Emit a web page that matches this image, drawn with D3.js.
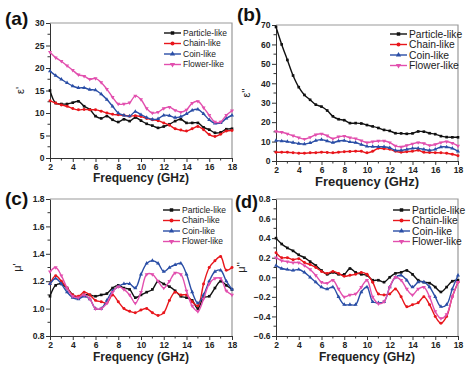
<!DOCTYPE html>
<html>
<head>
<meta charset="utf-8">
<script src="https://cdn.jsdelivr.net/npm/d3@7"></script>
<style>
  body { margin: 0; background: #fff; }
  svg text { font-family: "Liberation Sans", Arial, sans-serif; }
  .axis .tick text { font-weight: bold; font-size: 8.5px; fill: #222; }
  .axis path, .axis line { stroke: #333; }
  .legend text { fill: #222; }
  .title { font-weight: bold; fill: #222; }
  .panel { font-weight: bold; fill: #111; }
</style>
</head>
<body>
<div class="chart"></div>
<script>
// frequency points (GHz)
var freq = [2, 2.5, 3, 3.5, 4, 4.5, 5, 5.5, 6, 6.5, 7, 7.5, 8, 8.5, 9, 9.5, 10,
  10.5, 11, 11.5, 12, 12.5, 13, 13.5, 14, 14.5, 15, 15.5, 16, 16.5, 17, 17.5, 18];
var seriesNames = ["Particle-like", "Chain-like", "Coin-like", "Flower-like"];
var xTicks = [2, 4, 6, 8, 10, 12, 14, 16, 18];

// (a) real permittivity
var epsReal = [
  [15, 12.2, 12, 12, 12.3, 12.6, 11.5, 10.8, 9.3, 8.8, 9.3, 8.5, 8, 8.6, 8.2, 9, 8.3,
   7.6, 7.2, 6.7, 7, 7.5, 8.2, 8.6, 7.8, 7.8, 7.8, 6.8, 6.3, 5.6, 5.7, 6.4, 6.5],
  [12.7, 12.2, 11.8, 11.5, 11, 10.7, 10.8, 10.7, 10.7, 10.4, 10, 9.7, 9.6, 9.5, 9.3, 9.4, 9.2,
   8.8, 8.5, 8.3, 7.8, 7.3, 6.5, 6.2, 6, 6.5, 7, 6.3, 5.2, 4.8, 5.3, 6, 6.1],
  [19.3, 18.3, 17.5, 16.7, 16, 15.6, 15.6, 15.2, 15.1, 14.2, 13, 11.5, 10, 9.5, 9.3, 10.3, 9.6,
   9, 8.6, 8.7, 9.5, 9.4, 9, 9.2, 9.8, 10.6, 10.8, 9.8, 8.5, 7.7, 7.8, 8.8, 9.5],
  [23.5, 22.3, 21.5, 20.5, 19.5, 18.5, 18.2, 17.5, 17.7, 16.8, 15.3, 13.5, 12, 12, 12.3, 13.8, 13,
   11, 10, 10.2, 11, 11.3, 10.6, 10.2, 10.7, 12.2, 12.6, 11.2, 9.5, 8, 8, 9.5, 10.5]
];
// (b) imaginary permittivity
var epsImag = [
  [69, 60, 52, 44, 38, 34, 31.5, 29, 28, 26, 23, 21.5, 21, 19.5, 19.5, 19.3, 18.5,
   17.8, 17, 16, 15.5, 14.3, 14.2, 14, 14.2, 15.2, 15.1, 14.3, 13.8, 12.8, 12.3, 12.2, 12.2],
  [4.5, 4.5, 4.5, 4.3, 4, 4, 4.2, 4.3, 4.5, 4.4, 4.2, 4.5, 4.8, 4.9, 5, 5, 4.2,
   5, 6.5, 6.3, 6, 5, 4.5, 4.8, 5, 5.5, 4.5, 4.4, 4.3, 4.2, 4, 3.5, 2.7],
  [10.5, 10.3, 10, 9.5, 9, 8.7, 9.3, 10.5, 11, 10.3, 9.5, 10.3, 10.5, 9.8, 9.5, 8.5, 7.5,
   7.4, 7.3, 7.3, 6.8, 5.5, 5.5, 6, 6.5, 6.5, 6, 5.5, 6, 7.2, 7.2, 6.5, 5],
  [15.2, 14.8, 14, 13, 12, 11.3, 12.2, 13.5, 14, 13, 11.5, 12.5, 12.8, 12, 11.5, 10.5, 9.5,
   10, 10.3, 10.3, 9.5, 7.8, 7.3, 8, 8.8, 9.5, 9, 8, 8.5, 9.5, 10, 9.2, 7.8]
];
// (c) real permeability
var muReal = [
  [1.09, 1.17, 1.18, 1.15, 1.1, 1.08, 1.1, 1.1, 1.09, 1.1, 1.11, 1.15, 1.17, 1.15, 1.14, 1.08, 1.1,
   1.12, 1.14, 1.2, 1.18, 1.16, 1.13, 1.09, 1.08, 1.06, 1.0, 1.08, 1.09, 1.15, 1.2, 1.17, 1.14],
  [1.18, 1.24, 1.2, 1.15, 1.1, 1.09, 1.12, 1.1, 1.06, 1.05, 1.04, 1.1, 1.05, 1.0, 0.98, 0.97, 0.99,
   1.0, 0.97, 0.95, 0.97, 1.06, 1.12, 1.1, 1.1, 1.05, 1.02, 1.18, 1.3, 1.35, 1.38, 1.28, 1.3],
  [1.18, 1.22, 1.18, 1.12, 1.08, 1.07, 1.09, 1.07, 1.0, 1.0, 1.06, 1.13, 1.16, 1.18, 1.18, 1.15, 1.25,
   1.33, 1.35, 1.33, 1.27, 1.3, 1.32, 1.33, 1.25, 1.12, 1.04, 1.1, 1.2, 1.27, 1.28, 1.2, 1.14],
  [1.27, 1.3, 1.24, 1.15, 1.09, 1.08, 1.1, 1.07, 1.0, 1.0, 1.04, 1.12, 1.16, 1.14, 1.1, 1.04, 1.12,
   1.25, 1.25, 1.2, 1.15, 1.2, 1.26, 1.25, 1.13, 1.02, 0.98, 1.07, 1.18, 1.22, 1.22, 1.13, 1.1]
];
// (d) imaginary permeability
var muImag = [
  [0.4, 0.34, 0.3, 0.27, 0.23, 0.2, 0.16, 0.12, 0.07, 0.03, 0.05, 0.03, 0.03, 0.09, 0.05, 0.03, 0.02,
   -0.03, -0.03, -0.05, 0, 0.04, 0.05, 0.07, 0.03, -0.03, -0.05, -0.06, -0.1, -0.15, -0.1, -0.04, -0.03],
  [0.25, 0.2, 0.2, 0.18, 0.19, 0.15, 0.13, 0.1, 0.06, 0.04, 0.06, 0.04, 0.01, 0.02, 0.03, 0.05, 0.03,
   -0.05, -0.17, -0.18, -0.17, -0.12, -0.2, -0.3, -0.28, -0.26, -0.2, -0.28, -0.4, -0.47, -0.4, -0.2, -0.05],
  [0.12, 0.09, 0.08, 0.07, 0.08, 0.05, 0, -0.05, -0.1, -0.12, -0.1, -0.2, -0.28, -0.28, -0.28, -0.15, -0.1,
   -0.25, -0.26, -0.25, -0.1, 0, 0.02, -0.03, -0.1, -0.05, -0.05, -0.1, -0.2, -0.3, -0.28, -0.12, 0.02],
  [0.2, 0.17, 0.16, 0.15, 0.15, 0.12, 0.08, 0.02, -0.05, -0.06, -0.03, -0.12, -0.2, -0.18, -0.17, -0.1, -0.03,
   -0.2, -0.27, -0.25, -0.1, 0, -0.03, -0.12, -0.18, -0.12, -0.1, -0.2, -0.35, -0.42, -0.38, -0.2, -0.05]
];

var colors = ["#111111", "#e8161c", "#2a4ea6", "#e24fae"];
var symbols = [d3.symbolSquare, d3.symbolCircle, d3.symbolTriangle, d3.symbolTriangle];

var svg = d3.select(".chart")
  .append("svg")
  .attr("width", 476)
  .attr("height", 375);

function drawPanel(p) {
  var x = d3.scaleLinear().domain([2, 18]).range([p.left, p.right]);
  var y = d3.scaleLinear().domain(p.yDomain).range([p.bottom, p.top]);
  var g = svg.append("g");

  // minor ticks
  var xMinor = d3.range(3, 18, 2);
  var yMinor = p.yTicks.slice(1).map(function(v, i) { return (v + p.yTicks[i]) / 2; });
  g.selectAll(".xm").data(xMinor).enter().append("line")
    .attr("x1", function(d) { return x(d); }).attr("x2", function(d) { return x(d); })
    .attr("y1", p.bottom).attr("y2", p.bottom + 2.5).attr("stroke", "#333");
  g.selectAll(".ym").data(yMinor).enter().append("line")
    .attr("y1", function(d) { return y(d); }).attr("y2", function(d) { return y(d); })
    .attr("x1", p.left).attr("x2", p.left - 2.5).attr("stroke", "#333");

  // frame top/right
  g.append("path")
    .attr("d", "M" + p.left + "," + p.top + "H" + p.right + "V" + p.bottom)
    .attr("fill", "none").attr("stroke", "#999").attr("stroke-width", 1.2);

  // axes
  g.append("g").attr("class", "axis")
    .attr("transform", "translate(0," + p.bottom + ")")
    .call(d3.axisBottom(x).tickValues(xTicks).tickSize(4).tickSizeOuter(0).tickPadding(2));
  g.append("g").attr("class", "axis")
    .attr("transform", "translate(" + p.left + ",0)")
    .call(d3.axisLeft(y).tickValues(p.yTicks).tickFormat(d3.format(p.fmt)).tickSize(4).tickSizeOuter(0).tickPadding(1.5));

  // series
  var line = d3.line()
    .x(function(d, i) { return x(freq[i]); })
    .y(function(d) { return y(d); })
    .curve(d3.curveCatmullRom);
  p.data.forEach(function(s, k) {
    g.append("path")
      .attr("d", line(s))
      .attr("fill", "none")
      .attr("stroke", colors[k])
      .attr("stroke-width", 1.4);
    g.selectAll(".m" + k).data(s).enter().append("path")
      .attr("d", d3.symbol().type(symbols[k]).size(7))
      .attr("transform", function(d, i) {
        return "translate(" + x(freq[i]) + "," + y(d) + ")" + (k === 3 ? " rotate(180)" : "");
      })
      .attr("fill", colors[k]);
  });

  // legend
  var lg = g.append("g").attr("class", "legend");
  seriesNames.forEach(function(name, k) {
    var ly = p.legY + k * 10.5;
    lg.append("line")
      .attr("x1", p.legX).attr("x2", p.legX + 17)
      .attr("y1", ly).attr("y2", ly)
      .attr("stroke", colors[k]).attr("stroke-width", 1.4);
    lg.append("path")
      .attr("d", d3.symbol().type(symbols[k]).size(12))
      .attr("transform", "translate(" + (p.legX + 8.5) + "," + ly + ")" + (k === 3 ? " rotate(180)" : ""))
      .attr("fill", colors[k]);
    lg.append("text")
      .attr("x", p.legX + 19).attr("y", ly)
      .attr("dy", "0.35em")
      .attr("font-size", p.legFont + "px")
      .text(name);
  });

  // titles
  g.append("text").attr("class", "title")
    .attr("x", (p.left + p.right) / 2).attr("y", p.bottom + p.titleGap)
    .attr("text-anchor", "middle")
    .attr("font-size", p.titleFont + "px")
    .text("Frequency (GHz)");
  g.append("text")
    .attr("transform", "translate(" + p.yLabX + "," + ((p.top + p.bottom) / 2) + ") rotate(-90)")
    .attr("text-anchor", "middle")
    .attr("font-size", "11px")
    .attr("fill", "#222")
    .text(p.yLabel);
  g.append("text").attr("class", "panel")
    .attr("x", p.tagX).attr("y", p.tagY)
    .attr("font-size", p.tagFont + "px")
    .text(p.tag);
}

drawPanel({tag: "(a)", tagX: 5, tagY: 25, tagFont: 19, left: 50, right: 232, top: 23, bottom: 158, titleGap: 24, titleFont: 12,
  yDomain: [0, 30], yTicks: [0, 5, 10, 15, 20, 25, 30], fmt: "d", yLabel: "\u03b5'", yLabX: 24,
  legX: 164, legY: 33, legFont: 8.5, data: epsReal});
drawPanel({tag: "(b)", tagX: 237, tagY: 21, tagFont: 19, left: 276, right: 458, top: 25, bottom: 161, titleGap: 25, titleFont: 13,
  yDomain: [0, 70], yTicks: [0, 10, 20, 30, 40, 50, 60, 70], fmt: "d", yLabel: "\u03b5''", yLabX: 250,
  legX: 390, legY: 34, legFont: 10.3, data: epsImag});
drawPanel({tag: "(c)", tagX: 5, tagY: 205, tagFont: 19, left: 50, right: 232, top: 199, bottom: 336, titleGap: 25, titleFont: 12,
  yDomain: [0.8, 1.8], yTicks: [0.8, 1.0, 1.2, 1.4, 1.6, 1.8], fmt: ".1f", yLabel: "\u03bc'", yLabX: 21,
  legX: 163, legY: 210, legFont: 8.5, data: muReal});
drawPanel({tag: "(d)", tagX: 235, tagY: 208, tagFont: 18, left: 276, right: 458, top: 199, bottom: 336, titleGap: 25, titleFont: 12,
  yDomain: [-0.6, 0.8], yTicks: [-0.6, -0.4, -0.2, 0.0, 0.2, 0.4, 0.6, 0.8], fmt: ".1f", yLabel: "\u03bc''", yLabX: 245,
  legX: 393, legY: 210, legFont: 10.3, data: muImag});
</script>
</body>
</html>
